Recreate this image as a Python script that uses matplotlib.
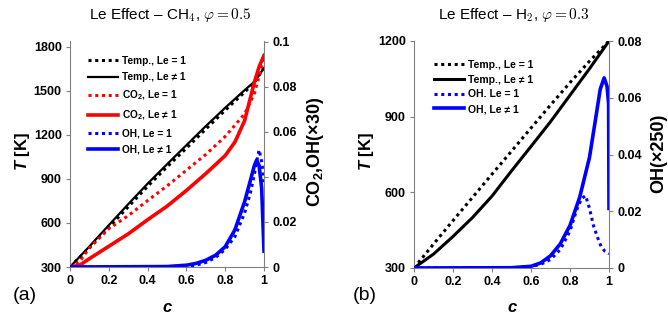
import matplotlib
matplotlib.use('Agg')
import matplotlib.pyplot as plt

plt.rcParams['font.family'] = ['Liberation Sans', 'DejaVu Sans']
plt.rcParams['mathtext.fontset'] = 'custom'
plt.rcParams['mathtext.rm'] = 'Liberation Sans'
plt.rcParams['mathtext.it'] = 'Liberation Sans:italic'
plt.rcParams['mathtext.bf'] = 'Liberation Sans:bold'
plt.rcParams['mathtext.bfit'] = 'Liberation Sans:italic:bold'

# ---- CH4, phi = 0.5 ----
c_t_ch4 = [0, 0.1, 0.2, 0.3, 0.4, 0.5, 0.6, 0.7, 0.8, 0.9, 0.95, 1.0]
T_ch4_le1 = [300, 432, 570, 710, 850, 982, 1110, 1240, 1368, 1492, 1556, 1660]
T_ch4_le = [300, 440, 585, 728, 868, 1000, 1130, 1260, 1385, 1505, 1562, 1655]

c_co2 = [0, 0.05, 0.1, 0.2, 0.3, 0.4, 0.5, 0.6, 0.7, 0.8, 0.85, 0.9, 0.95, 0.975, 1.0]
co2_le1 = [0, 0.0025, 0.0085, 0.017, 0.0228, 0.0295, 0.036, 0.043, 0.050, 0.058, 0.063, 0.068, 0.077, 0.085, 0.093]
co2_le = [0, 0.0008, 0.0037, 0.0092, 0.0147, 0.021, 0.027, 0.034, 0.0415, 0.0495, 0.0555, 0.065, 0.082, 0.089, 0.094]

c_oh_ch4 = [0, 0.5, 0.6, 0.65, 0.7, 0.75, 0.8, 0.85, 0.9, 0.93, 0.95, 0.962, 0.975, 0.988, 1.0]
oh_ch4_le = [0, 0.0002, 0.0008, 0.0016, 0.003, 0.0052, 0.009, 0.0165, 0.029, 0.0385, 0.045, 0.0475, 0.045, 0.035, 0.007]
c_oh_ch4_1 = [0, 0.5, 0.6, 0.65, 0.7, 0.75, 0.8, 0.85, 0.9, 0.93, 0.95, 0.965, 0.975, 0.99, 1.0]
oh_ch4_le1 = [0, 0, 0.0002, 0.0008, 0.002, 0.0042, 0.0078, 0.0135, 0.024, 0.033, 0.041, 0.048, 0.052, 0.046, 0.036]

# ---- H2, phi = 0.3 ----
c_t_h2 = [0, 0.1, 0.2, 0.3, 0.4, 0.5, 0.6, 0.7, 0.8, 0.9, 1.0]
T_h2_le1 = [300, 395, 488, 580, 672, 763, 855, 946, 1035, 1120, 1200]
T_h2_le = [300, 355, 425, 500, 585, 685, 782, 880, 985, 1090, 1200]

c_oh_h2 = [0, 0.5, 0.6, 0.65, 0.7, 0.75, 0.8, 0.85, 0.9, 0.93, 0.955, 0.975, 0.99, 0.998, 1.0]
oh_h2_le = [0, 0.0001, 0.0006, 0.0018, 0.0043, 0.0085, 0.015, 0.025, 0.039, 0.052, 0.063, 0.067, 0.064, 0.058, 0.021]
c_oh_h2_1 = [0, 0.5, 0.6, 0.65, 0.7, 0.75, 0.8, 0.82, 0.84, 0.86, 0.88, 0.9, 0.92, 0.94, 0.96, 0.98, 1.0]
oh_h2_le1 = [0, 0.0001, 0.0005, 0.0013, 0.003, 0.0065, 0.013, 0.0175, 0.0215, 0.0245, 0.0255, 0.021, 0.015, 0.011, 0.0075, 0.0058, 0.005]

x_ticks = [0, 0.2, 0.4, 0.6, 0.8, 1.0]
x_labels = ['0', '0.2', '0.4', '0.6', '0.8', '1']

DOT = (0, (1, 1.2))
GRAY = '#808080'
W, H = 668, 321


def estilo(ax, ax2):
    for s in ['top', 'right']:
        ax.spines[s].set_visible(False)
    for s in ['top', 'left', 'bottom']:
        ax2.spines[s].set_visible(False)
    for s in ['left', 'bottom']:
        ax.spines[s].set_color(GRAY)
        ax.spines[s].set_linewidth(0.8)
    ax2.spines['right'].set_color(GRAY)
    ax2.spines['right'].set_linewidth(0.8)
    for a in (ax, ax2):
        a.tick_params(direction='out', length=3, width=0.8, color=GRAY,
                      labelsize=9, pad=3)
        for lab in a.get_xticklabels() + a.get_yticklabels():
            lab.set_fontweight('bold')
    ax.set_xlim(0, 1)


fig = plt.figure(figsize=(W / 100, H / 100), dpi=100)

# Painel (a)
ax = fig.add_axes([70 / W, 1 - 267 / H, 194 / W, 226 / H])
ax2 = ax.twinx()
l1, = ax.plot(c_t_ch4, T_ch4_le1, color='black', lw=2.2, ls=DOT, label='Temp., Le = 1')
l2, = ax.plot(c_t_ch4, T_ch4_le, color='black', lw=1.6, label='Temp., Le ≠ 1')
l3, = ax2.plot(c_co2, co2_le1, color='red', lw=2.2, ls=DOT, label='CO$_\\mathbf{2}$, Le = 1')
l4, = ax2.plot(c_co2, co2_le, color='red', lw=2.6, label='CO$_\\mathbf{2}$, Le ≠ 1')
l5, = ax2.plot(c_oh_ch4_1, oh_ch4_le1, color='blue', lw=2.2, ls=DOT, label='OH, Le = 1')
l6, = ax2.plot(c_oh_ch4, oh_ch4_le, color='blue', lw=2.6, label='OH, Le ≠ 1')
ax.set_ylim(300, 1840)
ax2.set_ylim(0, 0.1004)
ax.set_yticks([300, 600, 900, 1200, 1500, 1800])
ax2.set_yticks([0, 0.02, 0.04, 0.06, 0.08, 0.1], ['0', '0.02', '0.04', '0.06', '0.08', '0.1'])
ax.set_xticks(x_ticks, x_labels)
estilo(ax, ax2)
ax2.legend(handles=[l1, l2, l3, l4, l5, l6], loc='upper left',
           bbox_to_anchor=(88 / W, 1 - 56 / H), bbox_transform=fig.transFigure,
           frameon=False, borderpad=0, borderaxespad=0, handlelength=2.95,
           handletextpad=0.4, labelspacing=0.62,
           prop={'size': 7.3, 'weight': 'bold'})

# Painel (b)
bx = fig.add_axes([414 / W, 1 - 268 / H, 195 / W, 227 / H])
bx2 = bx.twinx()
m1, = bx.plot(c_t_h2, T_h2_le1, color='black', lw=2.2, ls=DOT, label='Temp., Le = 1')
m2, = bx.plot(c_t_h2, T_h2_le, color='black', lw=2.2, label='Temp., Le ≠ 1')
m3, = bx2.plot(c_oh_h2_1, oh_h2_le1, color='blue', lw=2.2, ls=DOT, label='OH. Le = 1')
m4, = bx2.plot(c_oh_h2, oh_h2_le, color='blue', lw=2.6, label='OH, Le ≠ 1')
bx.set_ylim(300, 1200)
bx2.set_ylim(0, 0.08)
bx.set_yticks([300, 600, 900, 1200])
bx2.set_yticks([0, 0.02, 0.04, 0.06, 0.08], ['0', '0.02', '0.04', '0.06', '0.08'])
bx.set_xticks(x_ticks, x_labels)
estilo(bx, bx2)
bx2.legend(handles=[m1, m2, m3, m4], loc='upper left',
           bbox_to_anchor=(434 / W, 1 - 60 / H), bbox_transform=fig.transFigure,
           frameon=False, borderpad=0, borderaxespad=0, handlelength=2.9,
           handletextpad=0.35, labelspacing=0.45,
           prop={'size': 7.5, 'weight': 'bold'})

# Titulos e rotulos
fig.text(170 / W, 1 - 15 / H, r'Le Effect – CH$_4$, $\varphi = 0.5$',
         ha='center', va='center', fontsize=11, math_fontfamily='cm')
fig.text(514 / W, 1 - 15 / H, r'Le Effect – H$_2$, $\varphi = 0.3$',
         ha='center', va='center', fontsize=11, math_fontfamily='cm')

for x in (22, 367):
    fig.text(x / W, 1 - 152 / H, r'$\mathbfit{T}$ [K]', rotation=90,
             ha='center', va='center', fontsize=12, fontweight='bold')
fig.text(315 / W, 1 - 152 / H, 'CO$_\\mathbf{2}$,OH(×30)', rotation=90,
         ha='center', va='center', fontsize=13, fontweight='bold')
fig.text(659 / W, 1 - 153 / H, 'OH(×250)', rotation=90,
         ha='center', va='center', fontsize=13, fontweight='bold')

for x in (167, 512):
    fig.text(x / W, 1 - 308 / H, 'c', ha='center', va='center',
             fontsize=12, fontweight='bold', fontstyle='italic')
fig.text(25 / W, 1 - 296 / H, '(a)', ha='center', va='center', fontsize=14)
fig.text(365 / W, 1 - 296 / H, '(b)', ha='center', va='center', fontsize=14)

fig.savefig('out.png', dpi=100)
